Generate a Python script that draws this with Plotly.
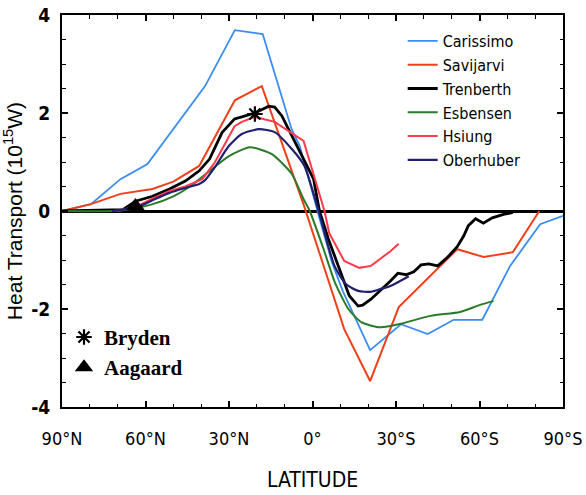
import plotly.graph_objects as go

# Latitude in degrees: positive = north, negative = south
car_lat = [90, 79.6, 69, 59.3, 38.6, 27.9, 17.9, 7.5, 4.6, 0, -3, -7, -11, -20.7, -31.8, -41.4, -50.7, -61, -71, -81.8, -90]
car_val = [0, 0.14, 0.65, 0.96, 2.55, 3.69, 3.61, 1.67, 1.33, 0.35, -0.25, -1.05, -1.65, -2.84, -2.31, -2.51, -2.22, -2.22, -1.12, -0.27, -0.1]

sav_lat = [90, 79.6, 69, 57.5, 50, 40.7, 27.9, 18.2, 3, -11.4, -20.7, -31, -52, -61.5, -72, -81.5]
sav_val = [0, 0.14, 0.35, 0.45, 0.6, 0.92, 2.26, 2.55, 0.1, -2.41, -3.47, -1.96, -0.78, -0.94, -0.84, 0]

tre_lat = [90, 68, 63.6, 57.5, 51.4, 45.7, 40.7, 37, 32.5, 28, 25.4, 20.7, 15.7, 13.6, 11, 7.5, 3.2, -0.4,
           -2.5, -5.7, -10.4, -13.2, -16.4, -18, -21, -25, -28, -30.7, -33.6, -36.4, -39, -41.8, -45, -48.6,
           -52, -54.3, -56, -58.6, -61.4, -64.6, -66.8, -68.6, -72]
tre_val = [0, 0.03, 0.2, 0.3, 0.45, 0.61, 0.82, 1.06, 1.6, 1.88, 1.92, 2.0, 2.14, 2.12, 1.94, 1.53, 1.06, 0.65,
           0, -0.57, -1.32, -1.73, -1.94, -1.92, -1.8, -1.6, -1.43, -1.27, -1.3, -1.24, -1.1, -1.08, -1.12, -0.94,
           -0.73, -0.51, -0.3, -0.16, -0.25, -0.14, -0.1, -0.07, -0.03]

esb_lat = [90, 72, 65, 58, 50, 44, 36, 30, 22.5, 14.6, 7.5, 3.2, 1, -4, -8, -12.9, -17.5, -23.6, -27.5,
           -31.8, -42.5, -53, -60, -65]
esb_val = [0, 0, 0.04, 0.13, 0.3, 0.5, 0.86, 1.12, 1.3, 1.16, 0.76, 0.24, 0, -0.78, -1.45, -2.0, -2.27, -2.37, -2.35,
           -2.3, -2.14, -2.06, -1.92, -1.84]

hsi_lat = [70, 63, 57.5, 51.4, 45.7, 39.6, 35, 32, 28, 25.4, 20.7, 13.6, 3.2, -4.3, -6, -11.4, -16.8, -21, -28, -31]
hsi_val = [0, 0.1, 0.25, 0.41, 0.5, 0.65, 1.0, 1.3, 1.73, 1.82, 1.92, 1.82, 1.43, 0, -0.45, -1.02, -1.16, -1.12, -0.82, -0.67]

obe_lat = [72, 63, 57.5, 51.4, 45.7, 40.7, 38.6, 35, 30, 25.4, 19.3, 13.6, 7.5, 2.9, -2, -7.9, -12, -16.4, -21,
           -24.6, -28, -34.6]
obe_val = [0, 0.08, 0.22, 0.37, 0.47, 0.55, 0.63, 0.9, 1.33, 1.57, 1.67, 1.61, 1.27, 0.92, 0.04, -1.12, -1.49,
           -1.63, -1.65, -1.59, -1.53, -1.33]

bryden_lat = [20.7]
bryden_val = [1.98]
aagaard_lat = [63.6]
aagaard_val = [0.1]

x_tickvals = [90, 60, 30, 0, -30, -60, -90]
x_ticktext = ["90°N", "60°N", "30°N", "0°", "30°S", "60°S", "90°S"]
y_tickvals = [-4, -2, 0, 2, 4]
y_ticktext = ["-4", "-2", "0", "2", "4"]

series = [
    ("Carissimo", car_lat, car_val, "#3a8cf2", 1.8, "linear"),
    ("Savijarvi", sav_lat, sav_val, "#f0401a", 2.0, "linear"),
    ("Trenberth", tre_lat, tre_val, "#000000", 2.8, "linear"),
    ("Esbensen", esb_lat, esb_val, "#2a7a2a", 2.0, "spline"),
    ("Hsiung", hsi_lat, hsi_val, "#ff3a4a", 2.0, "linear"),
    ("Oberhuber", obe_lat, obe_val, "#20206e", 2.2, "spline"),
]

NARROW = "DejaVu Sans Condensed, Liberation Sans, sans-serif"

fig = go.Figure()
for name, lat, val, color, w, shape in series:
    fig.add_trace(go.Scatter(
        x=lat, y=val, mode="lines", name=name,
        line=dict(color=color, width=w, shape=shape, smoothing=0.6),
        legend="legend",
    ))

fig.add_trace(go.Scatter(
    x=bryden_lat, y=bryden_val, mode="markers", name="Bryden",
    marker=dict(symbol="asterisk-open", size=13, color="black", line=dict(color="black", width=2.2)),
    legend="legend2",
))
fig.add_trace(go.Scatter(
    x=aagaard_lat, y=aagaard_val, mode="markers", name="Aagaard",
    marker=dict(symbol="triangle-up", size=16, color="black"),
    legend="legend2",
))

fig.update_layout(
    width=586, height=495,
    margin=dict(l=62, r=23, t=15, b=88),
    plot_bgcolor="white", paper_bgcolor="white",
    font=dict(family=NARROW, color="black"),
    legend=dict(
        x=0.680, y=0.977, xanchor="left", yanchor="top",
        font=dict(family=NARROW, size=16, color="black"),
        bgcolor="rgba(0,0,0,0)", borderwidth=0,
    ),
    legend2=dict(
        x=0.004, y=0.23, xanchor="left", yanchor="top",
        font=dict(family="Liberation Serif, Times New Roman, serif", size=21, color="black", weight="bold"),
        bgcolor="rgba(0,0,0,0)", borderwidth=0,
    ),
    xaxis=dict(
        range=[90, -90], tickmode="array", tickvals=x_tickvals, ticktext=x_ticktext,
        ticks="inside", ticklen=6, tickwidth=1.5, tickcolor="black",
        minor=dict(tickvals=list(range(-90, 91, 10)), ticks="inside", ticklen=3.5, tickwidth=1.2, tickcolor="black"),
        showline=True, linewidth=2, linecolor="black", mirror="ticks",
        showgrid=False, zeroline=False, automargin=False,
        tickfont=dict(family=NARROW, size=18),
        ticklabelstandoff=14,
        title=dict(text="LATITUDE", font=dict(family=NARROW, size=21), standoff=25),
    ),
    yaxis=dict(
        range=[-4, 4], tickmode="array", tickvals=y_tickvals, ticktext=y_ticktext,
        ticks="inside", ticklen=6, tickwidth=1.5, tickcolor="black",
        minor=dict(dtick=0.5, ticks="inside", ticklen=3.5, tickwidth=1.2, tickcolor="black"),
        showline=True, linewidth=2, linecolor="black", mirror="ticks",
        showgrid=False, zeroline=True, zerolinecolor="black", zerolinewidth=2.5, automargin=False,
        tickfont=dict(family=NARROW, size=19, weight="bold"),
        ticklabelstandoff=6,
        title=dict(text="Heat Transport (10<sup>15</sup>W)", font=dict(family="Liberation Sans, Arial, sans-serif", size=21), standoff=8),
    ),
)

fig.write_html("out.html")
